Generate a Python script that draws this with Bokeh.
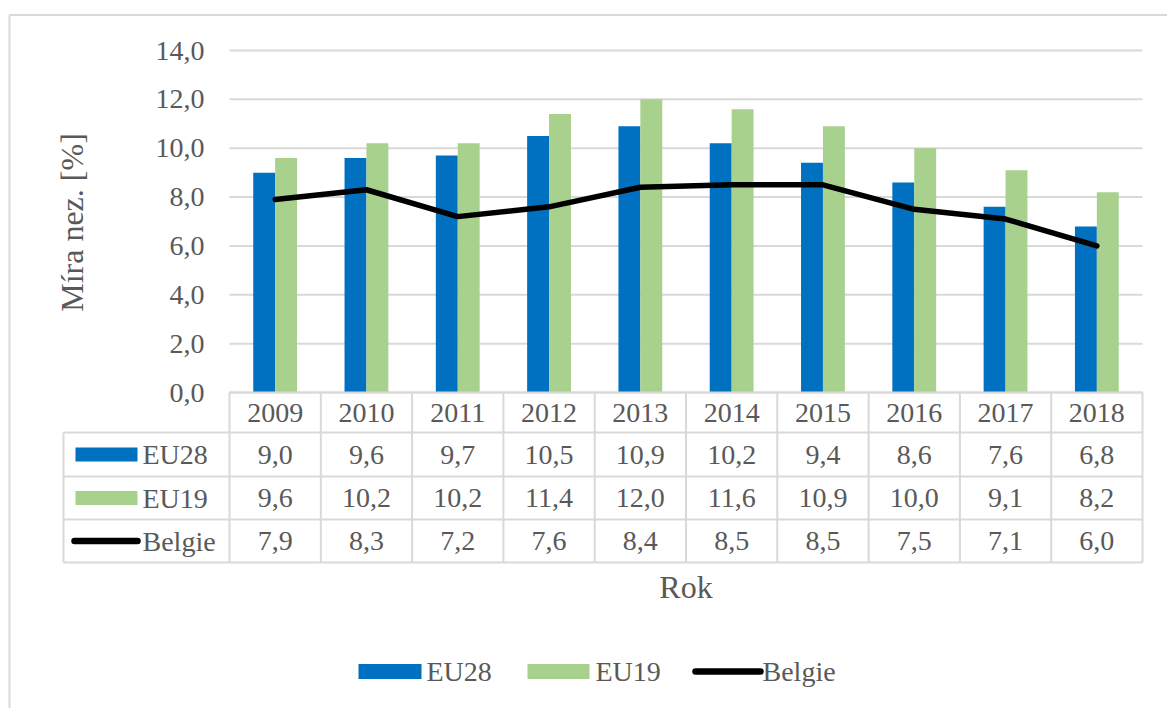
import math
from bokeh.plotting import figure
from bokeh.models import Range1d
from bokeh.core.properties import value
from bokeh.embed import file_html
from bokeh.resources import INLINE

# ---------------- data ----------------
years = ["2009", "2010", "2011", "2012", "2013", "2014", "2015", "2016", "2017", "2018"]
eu28 = [9.0, 9.6, 9.7, 10.5, 10.9, 10.2, 9.4, 8.6, 7.6, 6.8]
eu19 = [9.6, 10.2, 10.2, 11.4, 12.0, 11.6, 10.9, 10.0, 9.1, 8.2]
belgie = [7.9, 8.3, 7.2, 7.6, 8.4, 8.5, 8.5, 7.5, 7.1, 6.0]
series_names = ["EU28", "EU19", "Belgie"]
ytick_values = [0, 2, 4, 6, 8, 10, 12, 14]
ytick_labels = ["0,0", "2,0", "4,0", "6,0", "8,0", "10,0", "12,0", "14,0"]
y_title = "Míra nez. [%]"
x_title = "Rok"


def fmt(v):
    return f"{v:.1f}".replace(".", ",")


# ---------------- layout (page pixels) ----------------
W, H = 1167, 708
ORG = 0
PLOT_L, PLOT_R = 229, 1142
PLOT_T, PLOT_B = 50, 392
YMAX = 14.0
N = len(years)
CAT_PX = (PLOT_R - PLOT_L) / N
UNIT_PX = (PLOT_B - PLOT_T) / YMAX


def dx(px):
    return (px - PLOT_L) / CAT_PX


def dy(py):
    return (PLOT_B - py) / UNIT_PX


BLUE = "#0070C0"
GREEN = "#A9D18E"
GRID = "#D9D9D9"
TXT = "#595959"
FONT = value("'Liberation Serif', 'Times New Roman', serif")

p = figure(width=W, height=H, output_backend="svg", toolbar_location=None,
           tools="", title=None, x_axis_location=None, y_axis_location=None,
           x_range=Range1d(dx(ORG), dx(ORG + W)),
           y_range=Range1d(dy(ORG + H), dy(ORG)),
           min_border=0)
p.outline_line_color = None
p.grid.visible = False
p.background_fill_color = "white"
p.border_fill_color = "white"

# outer chart border (top & left visible)
p.segment(x0=[dx(9), dx(9)], y0=[dy(14.5), dy(14.5)],
          x1=[dx(1170), dx(9)], y1=[dy(14.5), dy(712)],
          line_color=GRID, line_width=2)

# gridlines
p.segment(x0=[0] * len(ytick_values), y0=ytick_values,
          x1=[N] * len(ytick_values), y1=ytick_values,
          line_color=GRID, line_width=2)

# y tick labels
p.text(x=[dx(204)] * len(ytick_values), y=ytick_values, text=ytick_labels,
       text_font=FONT, text_font_size="28px", text_color=TXT,
       text_align="right", text_baseline="middle")

# y axis title
p.text(x=[dx(71)], y=[dy(222)], text=[y_title], angle=math.pi / 2,
       text_font=FONT, text_font_size="32px", text_color=TXT,
       text_align="center", text_baseline="middle")

# bars
xc = [i + 0.5 for i in range(N)]
BW = 0.24
p.vbar(x=[c - BW / 2 for c in xc], top=eu28, bottom=0, width=BW,
       fill_color=BLUE, line_color=None)
p.vbar(x=[c + BW / 2 for c in xc], top=eu19, bottom=0, width=BW,
       fill_color=GREEN, line_color=None)

# line
p.line(x=xc, y=belgie, line_color="black", line_width=5.5,
       line_join="round", line_cap="round")

# ---------------- data table ----------------
row_edges = [392, 432, 476, 519, 562]
TAB_L = 63
hx0, hy0, hx1, hy1 = [], [], [], []
for k, ry in enumerate(row_edges):
    hx0.append(dx(PLOT_L if k == 0 else TAB_L))
    hx1.append(N)
    hy0.append(dy(ry))
    hy1.append(dy(ry))
for k in range(N + 1):
    hx0.append(k)
    hx1.append(k)
    hy0.append(dy(row_edges[0]))
    hy1.append(dy(row_edges[-1]))
hx0.append(dx(TAB_L))
hx1.append(dx(TAB_L))
hy0.append(dy(row_edges[1]))
hy1.append(dy(row_edges[-1]))
p.segment(x0=hx0, y0=hy0, x1=hx1, y1=hy1, line_color=GRID, line_width=2)

row_centers = [(row_edges[i] + row_edges[i + 1]) / 2 for i in range(4)]

p.text(x=xc, y=[dy(row_centers[0])] * N, text=years,
       text_font=FONT, text_font_size="28px", text_color=TXT,
       text_align="center", text_baseline="middle")

for r, vals in enumerate([eu28, eu19, belgie]):
    p.text(x=xc, y=[dy(row_centers[r + 1])] * N, text=[fmt(v) for v in vals],
           text_font=FONT, text_font_size="28px", text_color=TXT,
           text_align="center", text_baseline="middle")

KEY_L, KEY_R = 75, 137
for r, col in enumerate([BLUE, GREEN]):
    cy = row_centers[r + 1]
    p.quad(left=[dx(KEY_L)], right=[dx(KEY_R)], top=[dy(cy - 7)], bottom=[dy(cy + 7)],
           fill_color=col, line_color=None)
p.line(x=[dx(74), dx(137)], y=[dy(row_centers[3])] * 2, line_color="black",
       line_width=6.5, line_cap="round")
p.text(x=[dx(142)] * 3, y=[dy(c) for c in row_centers[1:]], text=series_names,
       text_font=FONT, text_font_size="28px", text_color=TXT,
       text_align="left", text_baseline="middle")

p.text(x=[N / 2], y=[dy(586)], text=[x_title],
       text_font=FONT, text_font_size="32px", text_color=TXT,
       text_align="center", text_baseline="middle")

# ---------------- bottom legend ----------------
LEG_Y = 671
p.quad(left=[dx(358), dx(527)], right=[dx(421), dx(589)],
       top=[dy(LEG_Y - 7.5)] * 2, bottom=[dy(LEG_Y + 7.5)] * 2,
       fill_color=[BLUE, GREEN], line_color=None)
p.line(x=[dx(695), dx(760)], y=[dy(LEG_Y)] * 2, line_color="black",
       line_width=6.5, line_cap="round")
p.text(x=[dx(426), dx(595), dx(762)], y=[dy(LEG_Y)] * 3, text=series_names,
       text_font=FONT, text_font_size="28px", text_color=TXT,
       text_align="left", text_baseline="middle")

open("out.html", "w").write(file_html(p, INLINE))
